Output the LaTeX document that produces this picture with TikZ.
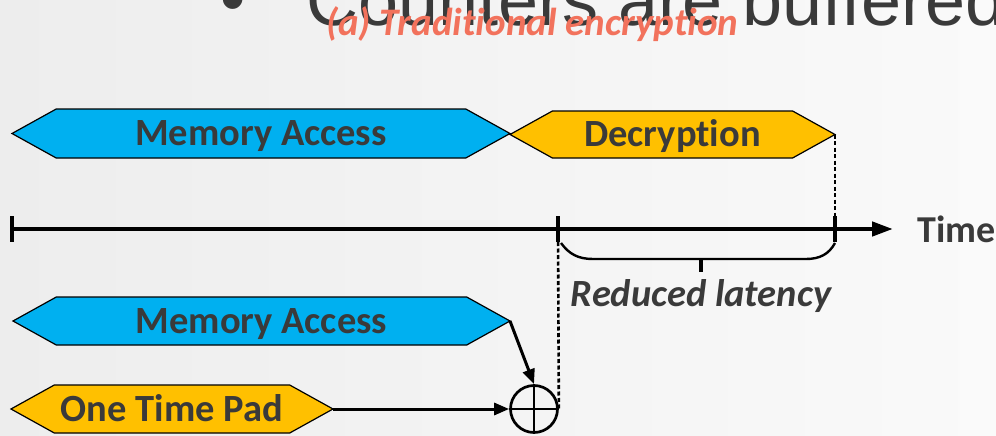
\documentclass[tikz,border=0pt]{standalone}
\usepackage{fontspec}
\setmainfont{Carlito}[Ligatures=NoCommon]
\newfontfamily\slidefont{Liberation Sans}
\usetikzlibrary{shapes.symbols,arrows.meta}

\definecolor{bgleft}{HTML}{EDEDED}
\definecolor{bgright}{HTML}{FAFAFA}
\definecolor{memblue}{HTML}{00B0F0}
\definecolor{padorange}{HTML}{FFC000}
\definecolor{labelgray}{HTML}{3A3A3A}
\definecolor{slidegray}{HTML}{3A3A3A}
\definecolor{captionred}{HTML}{F2725C}

\tikzset{
  phase/.style={signal, signal to=west and east, signal pointer angle=58,
    draw=black, line width=1.2pt, inner sep=0pt, outer sep=0pt,
    text=labelgray, text height=24pt, text depth=0pt,
    font=\fontsize{38.5}{44}\selectfont\bfseries},
  memphase/.style={phase, fill=memblue},
  padphase/.style={phase, fill=padorange},
  axisline/.style={line width=4.4pt, -{Triangle[length=21pt,width=14pt]}},
  tickmark/.style={line width=4.4pt},
  guide/.style={line width=2.6pt, dash pattern=on 4pt off 2.5pt},
  feed/.style={line width=3pt, -{Triangle[length=15pt,width=12pt]}},
  xornode/.style={circle, draw=black, line width=2.7pt, minimum size=47pt, inner sep=0pt},
  bracepath/.style={line width=2.4pt},
  axislabel/.style={inner sep=0pt, text=labelgray, font=\fontsize{38}{44}\selectfont\bfseries},
  notelabel/.style={inner sep=0pt, text=labelgray, font=\fontsize{38.5}{44}\selectfont\bfseries\itshape},
  captionlabel/.style={inner sep=0pt, text=captionred, font=\fontsize{39}{44}\selectfont\bfseries\itshape},
  slidetext/.style={inner sep=0pt, text=slidegray, font=\fontsize{72}{84}\selectfont\slidefont},
}

\begin{document}
\begin{tikzpicture}[x=1pt, y=-1pt]
  \useasboundingbox (0,0) rectangle (996,436);
  \clip (0,0) rectangle (996,436);
  \shade[left color=bgleft, right color=bgright] (0,0) rectangle (996,436);

  % slide bullet line behind the caption
  \node[slidetext, anchor=base west] (bullet) at (220,24) {•};
  \node[slidetext, anchor=base west] (slideline) at (306,26) {Counters are buffered};
  \node[captionlabel, anchor=base west] (caption) at (326,36) {(a) Traditional encryption};

  % traditional path: fetch, then decrypt
  \node[memphase, minimum width=498pt, minimum height=49pt] (ma1) at (261,133.5) {Memory Access};
  \node[padphase, minimum width=325pt, minimum height=47pt] (dec) at (672.5,134.5) {Decryption};

  % time axis
  \coordinate (t0) at (12,229);
  \coordinate (t1) at (558,229);
  \coordinate (t2) at (835,229);
  \coordinate (tend) at (893,229);
  \draw[axisline] (t0) -- (tend);
  \foreach \c in {t0,t1,t2}
    \draw[tickmark] ([yshift=13pt]\c) -- ([yshift=-13pt]\c);
  \node[axislabel, anchor=base west] (time) at (917,242) {Time};

  % saved latency
  \coordinate (bl) at (561,243);
  \coordinate (br) at (835,243);
  \coordinate (bm) at (701,259);
  \draw[bracepath] (bl) .. controls (569,254) and (578,259) .. (593,259)
    -- (806,259) .. controls (820,259) and (829,254) .. (br);
  \draw[line width=3.2pt] (bm) -- ++(0,13);
  \node[notelabel, anchor=base] (saving) at (701,306) {Reduced latency};

  % counter-mode path: pad generated alongside the fetch
  \node[memphase, minimum width=497pt, minimum height=48pt] (ma2) at (261.5,321) {Memory Access};
  \node[padphase, minimum width=322pt, minimum height=48pt] (otp) at (172,409) {One Time Pad};
  \node[xornode] (xor) at (534,409) {};
  \draw[line width=2.8pt] (xor.north) -- (xor.south) (xor.west) -- (xor.east);

  \draw[feed] (ma2.east) -- (xor.north);
  \draw[feed] (otp.east) -- (xor.west);

  \draw[guide] (dec.east) -- (t2);
  \draw[guide] (t1) -- (xor.east);
\end{tikzpicture}
\end{document}
